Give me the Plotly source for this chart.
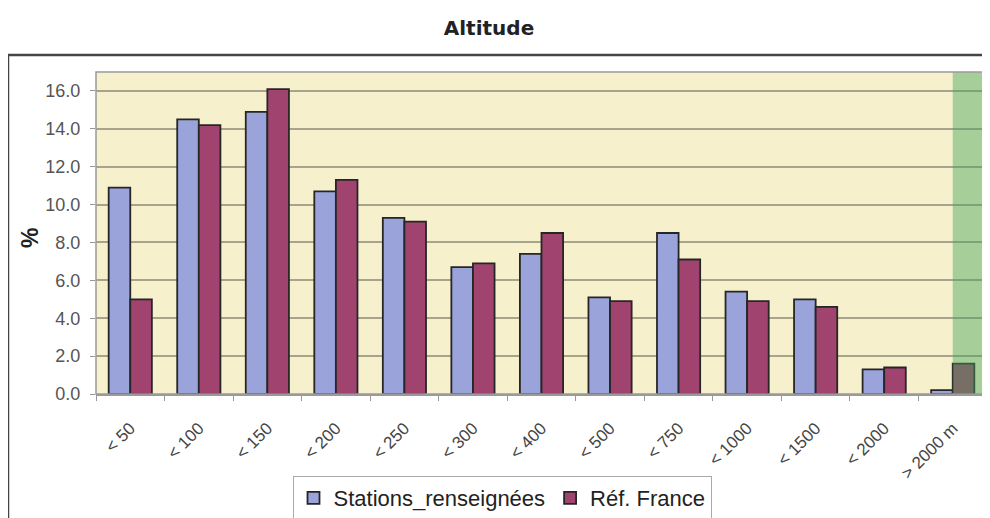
import plotly.graph_objects as go

categories = ["< 50", "< 100", "< 150", "< 200", "< 250", "< 300", "< 400",
              "< 500", "< 750", "< 1000", "< 1500", "< 2000", "> 2000 m"]
stations = [10.9, 14.5, 14.9, 10.7, 9.3, 6.7, 7.4, 5.1, 8.5, 5.4, 5.0, 1.3, 0.2]
ref_france = [5.0, 14.2, 16.1, 11.3, 9.1, 6.9, 8.5, 4.9, 7.1, 4.9, 4.6, 1.4, 1.6]
series_names = ["Stations_renseignées", "Réf. France"]

# page body has an 8px margin: work in window pixels and convert
OFF = 8
W, H = 990 - OFF, 518 - OFF
ML, MT = 96 - OFF, 72 - OFF
MR = W - (987 - OFF)
MB = H - (394 - OFF)
PW, PH = W - ML - MR, H - MT - MB

def px_x(X):
    return (X - OFF - ML) / PW

def px_y(Y):
    return (H - MB - (Y - OFF)) / PH

fig = go.Figure()
fig.add_trace(go.Bar(x=categories, y=stations, name=series_names[0],
                     marker=dict(color="#9AA3DA", line=dict(color="#262626", width=1.8))))
fig.add_trace(go.Bar(x=categories, y=ref_france, name=series_names[1],
                     marker=dict(color="#A0436F", line=dict(color="#262626", width=1.8))))

shapes = [
    dict(type="rect", xref="x", yref="y", x0=12, x1=12.5, y0=0, y1=17,
         fillcolor="rgba(69,165,90,0.45)", line=dict(width=0), layer="above"),
    dict(type="rect", xref="paper", yref="paper", x0=0, x1=1, y0=0, y1=1,
         line=dict(color="#9a9a9a", width=1.5), layer="above"),
    dict(type="rect", xref="paper", yref="paper",
         x0=px_x(8), x1=px_x(988), y0=px_y(560), y1=px_y(55),
         line=dict(color="#444444", width=2.5), layer="above"),
]

fig.update_layout(
    width=W, height=H,
    margin=dict(l=ML, r=MR, t=MT, b=MB, pad=0, autoexpand=False),
    paper_bgcolor="white",
    plot_bgcolor="#F6F1CC",
    barmode="group",
    bargap=0.37,
    bargroupgap=0,
    font=dict(family="Arial, Liberation Sans, sans-serif", color="#444444"),
    title=dict(text="<b>Altitude</b>", x=(489 - OFF) / W, xref="container", xanchor="center",
               y=1 - (28 - OFF) / H, yref="container", yanchor="middle",
               font=dict(family="DejaVu Sans", size=20, color="#222222")),
    xaxis=dict(type="category", tickangle=-45, tickson="boundaries",
               ticks="outside", ticklen=5, tickcolor="#999999",
               showline=True, linecolor="#999999", linewidth=1.5,
               tickfont=dict(size=17, color="#444444"), ticklabelstandoff=16,
               showgrid=False, zeroline=False, automargin=False),
    yaxis=dict(range=[0, 17], dtick=2, tickformat=".1f",
               ticks="outside", ticklen=5, tickcolor="#999999",
               tickfont=dict(size=18, color="#555555"), ticklabelstandoff=6,
               showgrid=True, gridcolor="#A8A48C", gridwidth=1.5,
               zeroline=False, showline=False, automargin=False),
    legend=dict(orientation="h", x=(502 - OFF) / W, xref="container", xanchor="center",
                y=1 - (476 - OFF) / H, yref="container", yanchor="top",
                bordercolor="#aaaaaa", borderwidth=1, bgcolor="white",
                font=dict(size=22, color="#222222"),
                itemwidth=30, tracegroupgap=0),
    shapes=shapes,
    showlegend=True,
)

fig.add_annotation(text="<b>%</b>", xref="paper", yref="paper",
                   x=px_x(30), y=px_y(238), showarrow=False, textangle=-90,
                   xanchor="center", yanchor="middle",
                   font=dict(family="Arial", size=23, color="#222222"))

fig.write_html("out.html")
